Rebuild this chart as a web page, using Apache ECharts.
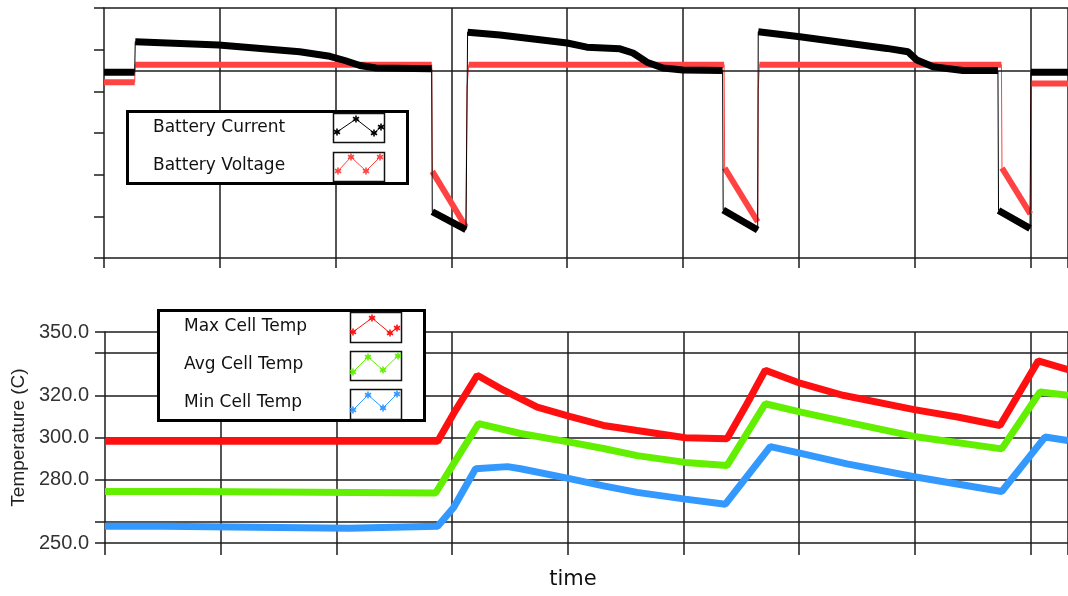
<!DOCTYPE html>
<html><head><meta charset="utf-8">
<script src="https://cdn.jsdelivr.net/npm/echarts@6/dist/echarts.min.js"></script>
<style>html,body{margin:0;padding:0;background:#fff}#c{width:1068px;height:596px}</style>
</head><body><div id="c"></div>
<script>
// ---------------- data ----------------
const timeMax = 832.5;          // right end of the visible time window
const timeInterval = 100;       // spacing of vertical grid lines

const currentTime  = [0, 26.5, 27, 99, 169, 195, 208, 221, 235, 283, 283.5, 312.6, 314, 342, 400, 417, 445.6, 456.8, 468.9, 482.7, 500, 534.2, 534.7, 564.5, 565, 601, 644.2, 676.2, 694.3, 702, 715.9, 741.8, 772, 772.5, 799.7, 800.5, 832.5];
const currentValue = [4.46, 4.46, 5.19, 5.11, 4.95, 4.84, 4.74, 4.62, 4.56, 4.54, 1.11, 0.68, 5.42, 5.35, 5.16, 5.06, 5.02, 4.92, 4.70, 4.56, 4.51, 4.50, 1.15, 0.67, 5.43, 5.31, 5.15, 5.03, 4.95, 4.75, 4.59, 4.50, 4.50, 1.14, 0.71, 4.46, 4.46];

const voltageTime  = [0, 26.5, 27, 283, 283.5, 312.5, 313.5, 315, 535.5, 536, 564.5, 565, 566, 775, 775.5, 800, 800.5, 832.5];
const voltageValue = [4.22, 4.22, 4.64, 4.64, 2.08, 0.75, 4.10, 4.64, 4.64, 2.16, 0.87, 4.05, 4.64, 4.64, 2.16, 1.06, 4.19, 4.19];

const topAxisMin = 0, topAxisMax = 6, topAxisInterval = 1;
const topGridLineValue = 4.5;

const maxTempTime  = [0, 287.6, 301.4, 321.8, 344.6, 373.7, 401.6, 430.9, 460, 501.7, 537.7, 555, 570.8, 601.6, 638, 699.5, 737, 773.7, 806.8, 832.5];
const maxTempValue = [298.2, 298.2, 311.4, 329.5, 322.4, 314.4, 310.0, 305.7, 303.3, 299.9, 299.4, 316.0, 331.9, 325.6, 320.0, 313.2, 309.7, 305.7, 336.3, 332.2];

const avgTempTime  = [0, 76, 77, 285.8, 301.4, 323, 359.2, 401.6, 430.9, 460, 501.7, 537.7, 570.8, 601.6, 641.4, 699.5, 775.2, 808.3, 832.5];
const avgTempValue = [274.4, 274.4, 273.7, 273.7, 287.6, 306.6, 301.9, 297.8, 294.8, 291.4, 288.2, 286.7, 316.0, 312.0, 307.3, 300.5, 294.6, 321.6, 320.0];

const minTempTime  = [0, 50, 51, 210.7, 212, 287.6, 301.4, 320.4, 348, 359.2, 401.6, 430.9, 460, 501.7, 536.3, 575.1, 601.6, 641.4, 699.5, 775.2, 812.6, 832.5];
const minTempValue = [257.9, 257.9, 257.0, 257.0, 257.9, 257.9, 266.8, 285.2, 286.2, 285.2, 280.5, 277.1, 274.0, 270.8, 268.4, 295.7, 292.5, 287.5, 281.4, 274.4, 300.2, 298.6];

const tempMin = 250, tempMax = 350;
const tempTickValues  = [250, 260, 280, 300, 320, 340, 350];
const tempLabelValues = [250, 280, 300, 320, 350];

const topLegendNames    = ['Battery Current', 'Battery Voltage'];
const bottomLegendNames = ['Max Cell Temp', 'Avg Cell Temp', 'Min Cell Temp'];

// ---------------- helpers ----------------
const pairs = (t, v) => t.map((x, i) => [x, v[i]]);
// thick "marker band" data: break where the trace jumps vertically (drawn thin in the reference)
function bands(t, v) {
  const out = [];
  for (let i = 0; i < t.length; i++) {
    if (i > 0 && (t[i] - t[i-1]) < 2 && Math.abs(v[i] - v[i-1]) > 0.3) out.push([t[i], null]);
    out.push([t[i], v[i]]);
  }
  return out;
}

const AX = '#1c1c1c';
const C_CUR = '#000000', C_VOL = '#ff4343';
const C_MAX = '#ff1010', C_AVG = '#62f000', C_MIN = '#3399ff';

function asterisk(cx, cy, r, color) {
  return [90, 30, 150].map(a => {
    const rad = a * Math.PI / 180;
    return { type: 'line', z: 102,
      shape: { x1: cx - r*Math.cos(rad), y1: cy - r*Math.sin(rad), x2: cx + r*Math.cos(rad), y2: cy + r*Math.sin(rad) },
      style: { stroke: color, lineWidth: 1.6 } };
  });
}
function sample(box, pts, color) {
  const els = [{ type: 'rect', z: 101, shape: box, style: { fill: '#fff', stroke: '#111', lineWidth: 1.5 } },
               { type: 'polyline', z: 102, shape: { points: pts }, style: { stroke: color, lineWidth: 1, fill: null } }];
  pts.forEach(p => els.push(...asterisk(p[0], p[1], 3.5, color)));
  return els;
}
function label(text, x, y) {
  return { type: 'text', z: 102, x: x, y: y,
    style: { text: text, fontFamily: 'DejaVu Sans', fontSize: 17, fill: '#111', verticalAlign: 'middle' } };
}

const graphicEls = [
  // top legend
  { type: 'rect', z: 100, shape: { x: 127.5, y: 111.5, width: 280, height: 72 }, style: { fill: '#fff', stroke: '#000', lineWidth: 3 } },
  label(topLegendNames[0], 153, 128),
  label(topLegendNames[1], 153, 166),
  ...sample({ x: 333.5, y: 113.5, width: 51, height: 29 }, [[337,132],[356,119],[374,133],[381,127]], C_CUR),
  ...sample({ x: 333.5, y: 152.5, width: 51, height: 29 }, [[338,171],[351,157],[366,171],[380,157]], C_VOL),
  // bottom legend
  { type: 'rect', z: 100, shape: { x: 158.5, y: 310.5, width: 266, height: 110 }, style: { fill: '#fff', stroke: '#000', lineWidth: 3 } },
  label(bottomLegendNames[0], 184, 327),
  label(bottomLegendNames[1], 184, 365),
  label(bottomLegendNames[2], 184, 403),
  ...sample({ x: 350.5, y: 312.5, width: 51, height: 30 }, [[353,332],[372,318],[390,333],[397,328]], C_MAX),
  ...sample({ x: 350.5, y: 351.5, width: 51, height: 29 }, [[353,372],[368,357],[383,370],[398,356]], C_AVG),
  ...sample({ x: 350.5, y: 389.5, width: 51, height: 30 }, [[353,410],[368,395],[383,408],[397,394]], C_MIN)
];

const lineStyleAx = { color: AX, width: 1.5 };

const option = {
  animation: false,
  backgroundColor: '#fff',
  grid: [
    { left: 104, top: 8, right: 0, height: 250 },
    { left: 105, top: 332, right: -1, height: 211 }
  ],
  xAxis: [
    { gridIndex: 0, type: 'value', min: 0, max: timeMax, interval: timeInterval,
      axisLine: { show: true, onZero: false, lineStyle: lineStyleAx },
      axisTick: { show: true, length: 10, lineStyle: lineStyleAx },
      axisLabel: { show: false },
      splitLine: { show: true, showMinLine: false, lineStyle: lineStyleAx } },
    { gridIndex: 0, type: 'value', position: 'top', min: 0, max: timeMax,
      axisLine: { show: true, onZero: false, lineStyle: lineStyleAx },
      axisTick: { show: false }, axisLabel: { show: false }, splitLine: { show: false } },
    { gridIndex: 1, type: 'value', min: 0, max: timeMax, interval: timeInterval,
      name: 'time', nameLocation: 'middle', nameGap: 26,
      nameTextStyle: { fontFamily: 'DejaVu Sans', fontSize: 21, color: '#111', padding: [0, 27, 0, 0] },
      axisLine: { show: true, onZero: false, lineStyle: lineStyleAx },
      axisTick: { show: true, length: 12, lineStyle: lineStyleAx },
      axisLabel: { show: false },
      splitLine: { show: true, showMinLine: false, lineStyle: lineStyleAx } }
  ],
  yAxis: [
    { gridIndex: 0, type: 'value', min: topAxisMin, max: topAxisMax, interval: topAxisInterval,
      axisLine: { show: true, onZero: false, lineStyle: lineStyleAx },
      axisTick: { show: true, length: 10, lineStyle: lineStyleAx },
      axisLabel: { show: false }, splitLine: { show: false } },
    { gridIndex: 1, type: 'value', min: tempMin, max: tempMax,
      name: 'Temperature (C)', nameLocation: 'middle', nameGap: 72, nameRotate: 90,
      nameTextStyle: { fontFamily: 'Liberation Sans', fontSize: 19, color: '#222' },
      axisLine: { show: true, onZero: false, lineStyle: lineStyleAx },
      axisTick: { show: true, length: 10, customValues: tempTickValues, lineStyle: lineStyleAx },
      axisLabel: { show: true, customValues: tempLabelValues, formatter: v => Number(v).toFixed(1),
        fontFamily: 'Liberation Sans', fontSize: 20, color: '#333', margin: 16 },
      splitLine: { show: true, showMinLine: false, lineStyle: lineStyleAx } }
  ],
  series: [
    { name: topLegendNames[1], type: 'line', xAxisIndex: 0, yAxisIndex: 0, data: pairs(voltageTime, voltageValue),
      showSymbol: false, lineStyle: { color: C_VOL, width: 1 }, z: 2, silent: true,
      markLine: { silent: true, symbol: ['none', 'none'], label: { show: false },
        lineStyle: { color: AX, width: 1.5, type: 'solid' }, data: [{ yAxis: topGridLineValue }] } },
    { name: topLegendNames[1], type: 'line', xAxisIndex: 0, yAxisIndex: 0, data: bands(voltageTime, voltageValue),
      showSymbol: false, connectNulls: false, lineStyle: { color: C_VOL, width: 6 }, z: 3, silent: true },
    { name: topLegendNames[0], type: 'line', xAxisIndex: 0, yAxisIndex: 0, data: pairs(currentTime, currentValue),
      showSymbol: false, lineStyle: { color: C_CUR, width: 1 }, z: 4, silent: true },
    { name: topLegendNames[0], type: 'line', xAxisIndex: 0, yAxisIndex: 0, data: bands(currentTime, currentValue),
      showSymbol: false, connectNulls: false, lineStyle: { color: C_CUR, width: 7 }, z: 5, silent: true },
    { name: bottomLegendNames[0], type: 'line', xAxisIndex: 2, yAxisIndex: 1, data: pairs(maxTempTime, maxTempValue),
      showSymbol: false, lineStyle: { color: C_MAX, width: 7 }, z: 3, silent: true },
    { name: bottomLegendNames[1], type: 'line', xAxisIndex: 2, yAxisIndex: 1, data: pairs(avgTempTime, avgTempValue),
      showSymbol: false, lineStyle: { color: C_AVG, width: 7 }, z: 3, silent: true },
    { name: bottomLegendNames[2], type: 'line', xAxisIndex: 2, yAxisIndex: 1, data: pairs(minTempTime, minTempValue),
      showSymbol: false, lineStyle: { color: C_MIN, width: 7 }, z: 3, silent: true }
  ],
  graphic: { elements: graphicEls }
};

const chart = echarts.init(document.getElementById('c'), null, { renderer: 'canvas' });
chart.setOption(option);
</script>
</body></html>
